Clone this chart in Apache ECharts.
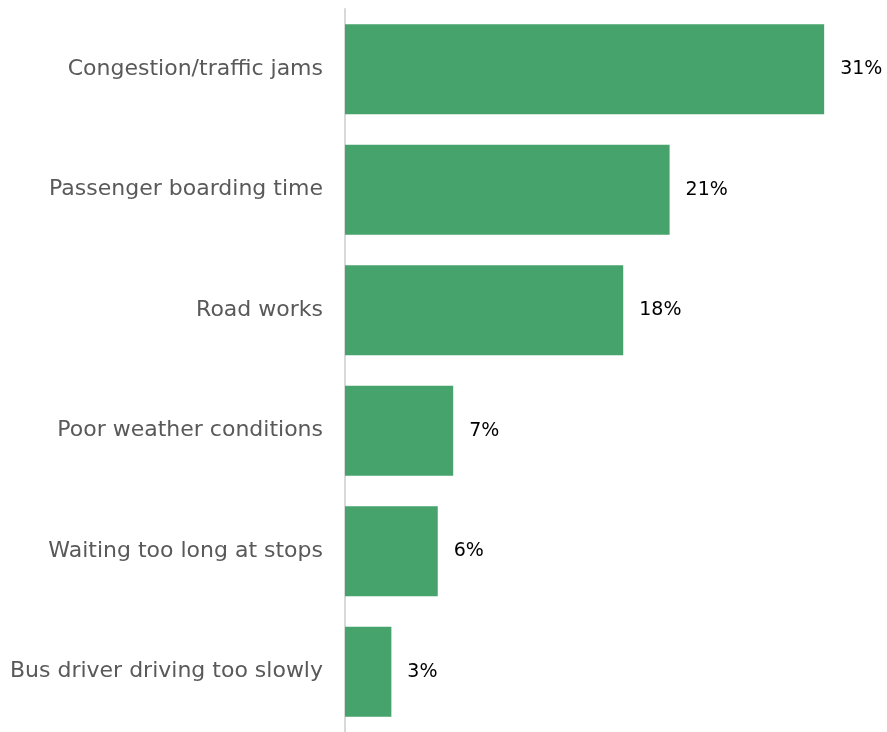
<!DOCTYPE html>
<html><head><meta charset="utf-8">
<script src="https://cdn.jsdelivr.net/npm/echarts@6/dist/echarts.min.js"></script>
<style>html,body{margin:0;padding:0;background:#fff}#c{width:887px;height:732px}</style>
</head><body><div id="c"></div>
<script>
const categories = ["Congestion/traffic jams","Passenger boarding time","Road works","Poor weather conditions","Waiting too long at stops","Bus driver driving too slowly"];
const values = [31, 21, 18, 7, 6, 3];
const labelText = ["31%","21%","18%","7%","6%","3%"];

const chart = echarts.init(document.getElementById('c'), null, {renderer:'canvas'});
chart.setOption({
  animation:false,
  grid:{left:345, top:9, width:541, height:727, containLabel:false},
  xAxis:{type:'value', min:0, max:35, show:false},
  yAxis:{type:'category', inverse:true, data:categories,
    axisLine:{show:true, lineStyle:{color:'#d9d9d9', width:2}},
    axisTick:{show:false},
    axisLabel:{color:'#595959', fontSize:22, fontFamily:'DejaVu Sans', margin:22}
  },
  series:[{type:'bar', data:values, barWidth:90,
    itemStyle:{color:'#46A36B'},
    label:{show:true, position:'right', distance:16, color:'#000', fontSize:19, fontFamily:'DejaVu Sans',
      formatter:p=>labelText[p.dataIndex]}
  }]
});
</script></body></html>
